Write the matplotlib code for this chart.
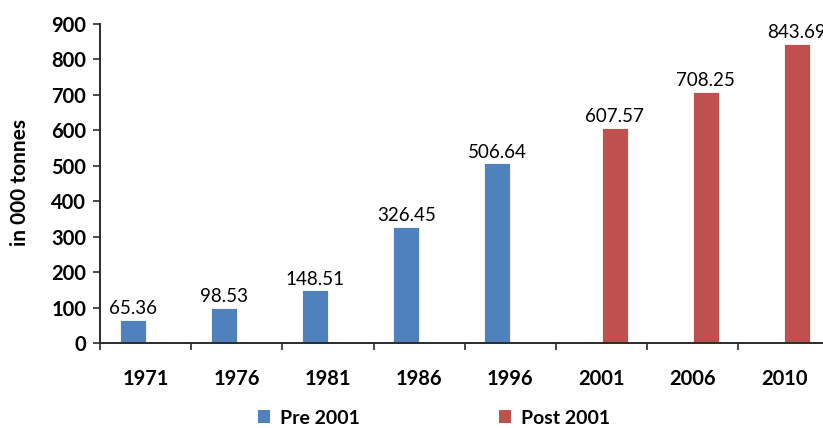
import matplotlib
matplotlib.use("Agg")
import matplotlib.pyplot as plt
from matplotlib.patches import Patch

years = ["1971", "1976", "1981", "1986", "1996", "2001", "2006", "2010"]
pre_2001 = [65.36, 98.53, 148.51, 326.45, 506.64, None, None, None]
post_2001 = [None, None, None, None, None, 607.57, 708.25, 843.69]
series_names = ["Pre 2001", "Post 2001"]
colors = ["#4F81BD", "#C0504D"]

plt.rcParams["font.family"] = ["Lato", "DejaVu Sans"]

fig = plt.figure(figsize=(8.23, 4.28), dpi=100)
ax = fig.add_axes([100 / 823, 85 / 428, 8 * 91.2 / 823, (343 - 24) / 428])

w = 0.285
x = list(range(len(years)))
for si, (vals, col) in enumerate(zip([pre_2001, post_2001], colors)):
    off = (-w / 2) if si == 0 else (w / 2)
    xs = [xi + off for xi, v in zip(x, vals) if v is not None]
    vs = [v for v in vals if v is not None]
    bars = ax.bar(xs, vs, width=w, color=col, edgecolor="white", linewidth=0.6)
    for b, v in zip(bars, vs):
        ax.text(b.get_x() + b.get_width() / 2, v + 8, f"{v:.2f}",
                ha="center", va="bottom", fontsize=13.5, color="black",
                clip_on=False)

ax.set_xlim(-0.5, len(years) - 0.5)
ax.set_ylim(0, 900)
ax.set_yticks(range(0, 901, 100))
ax.set_yticklabels([str(v) for v in range(0, 901, 100)], fontsize=14.5, fontweight="bold")
ax.set_xticks(x)
ax.set_xticklabels(years, fontsize=14.5, fontweight="bold")
ax.set_xticks([i - 0.5 for i in range(len(years) + 1)], minor=True)
ax.tick_params(axis="x", which="major", length=0, pad=19)
ax.tick_params(axis="x", which="minor", length=5, width=1.2, color="#2b2b2b", direction="out")
ax.tick_params(axis="y", length=5, width=1.2, color="#2b2b2b", direction="out", pad=5)

for s in ["top", "right"]:
    ax.spines[s].set_visible(False)
for s in ["left", "bottom"]:
    ax.spines[s].set_color("#2b2b2b")
    ax.spines[s].set_linewidth(1.4)

fig.text(20 / 823, 1 - 182 / 428, "in 000 tonnes", rotation=90, ha="center", va="center",
         fontsize=15, fontweight="bold")

handles = [Patch(facecolor=c, edgecolor="none") for c in colors]
fig.legend(handles, series_names, loc="center", bbox_to_anchor=(434 / 823, 10 / 428),
           ncol=2, frameon=False, handlelength=0.6, handleheight=0.6,
           handletextpad=0.5, columnspacing=7.2,
           prop={"size": 14, "weight": "bold"})

fig.savefig("out.png", dpi=100)
